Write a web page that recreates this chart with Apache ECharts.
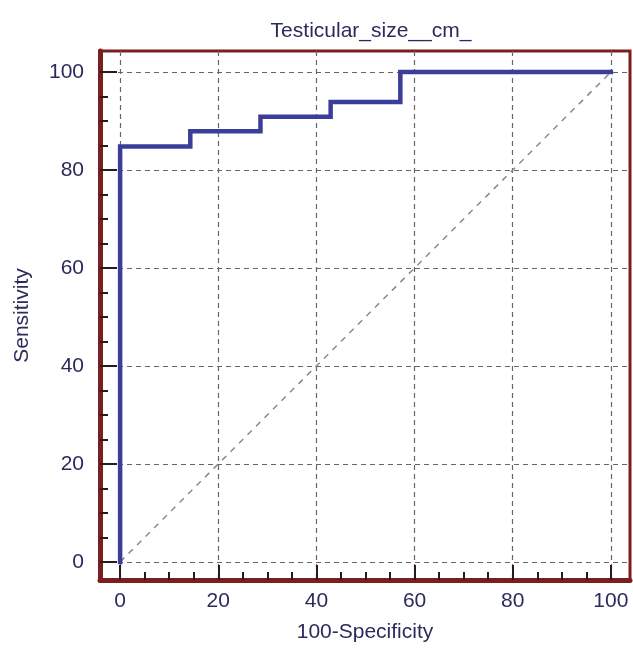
<!DOCTYPE html>
<html>
<head>
<meta charset="utf-8">
<script src="https://cdn.jsdelivr.net/npm/echarts@6.0.0/dist/echarts.min.js"></script>
<style>
  html, body { margin: 0; padding: 0; background: #fff; }
  #roc { width: 633px; height: 648px; }
</style>
</head>
<body>
<div id="roc"></div>
<script>
// ROC curve points (100-specificity, sensitivity)
var fpr = [0, 0, 14.3, 14.3, 28.6, 28.6, 42.9, 42.9, 57.1, 57.1, 100];
var tpr = [0, 84.8, 84.8, 87.9, 87.9, 90.9, 90.9, 93.9, 93.9, 100, 100];
// reference diagonal
var diagX = [0, 100];
var diagY = [0, 100];
// tick values
var majorTicks = [0, 20, 40, 60, 80, 100];
var minorTicks = [5, 10, 15, 25, 30, 35, 45, 50, 55, 65, 70, 75, 85, 90, 95];

var frameColor = '#7b1e1e';
var textColor = '#2b2b5c';
var font = "'Liberation Sans', Arial, sans-serif";

function pairs(xs, ys) {
  var out = [];
  for (var i = 0; i < xs.length; i++) out.push([xs[i], ys[i]]);
  return out;
}

var chart = echarts.init(document.getElementById('roc'));

var gridLine = { show: true, lineStyle: { color: '#666', width: 1.2, type: [5, 4] } };

var option = {
  animation: false,
  title: {
    text: 'Testicular_size__cm_',
    left: 366,
    textAlign: 'center',
    top: 16,
    textStyle: { color: textColor, fontSize: 21, fontWeight: 'normal', fontFamily: font }
  },
  grid: {
    left: 100, right: 3, top: 51, bottom: 66,
    show: true, borderColor: frameColor, borderWidth: 3, backgroundColor: '#fff'
  },
  xAxis: [
    {
      type: 'value', min: -4.1, max: 103.9, position: 'bottom',
      name: '100-Specificity', nameLocation: 'middle', nameGap: 42,
      nameTextStyle: { color: textColor, fontSize: 21, fontFamily: font },
      axisLine: { show: true, onZero: false, lineStyle: { color: frameColor, width: 5 } },
      axisTick: { show: true, inside: true, length: 15, customValues: majorTicks,
        lineStyle: { color: '#2a1a1a', width: 2 } },
      axisLabel: { customValues: majorTicks, margin: 11, color: textColor, fontSize: 21, fontFamily: font },
      splitLine: gridLine
    },
    {
      type: 'value', min: -4.1, max: 103.9, position: 'bottom',
      axisLine: { show: false, onZero: false },
      axisTick: { show: true, inside: true, length: 8, customValues: minorTicks,
        lineStyle: { color: '#2a1a1a', width: 2 } },
      axisLabel: { show: false },
      splitLine: { show: false }
    }
  ],
  yAxis: [
    {
      type: 'value', min: -3.7, max: 104.3, position: 'left',
      name: 'Sensitivity', nameLocation: 'middle', nameGap: 67,
      nameTextStyle: { color: textColor, fontSize: 21, fontFamily: font },
      axisLine: { show: true, onZero: false, lineStyle: { color: frameColor, width: 5 } },
      axisTick: { show: true, inside: true, length: 17, customValues: majorTicks,
        lineStyle: { color: '#2a1a1a', width: 2 } },
      axisLabel: { customValues: majorTicks, margin: 16, color: textColor, fontSize: 21, fontFamily: font },
      splitLine: gridLine
    },
    {
      type: 'value', min: -3.7, max: 104.3, position: 'left',
      axisLine: { show: false, onZero: false },
      axisTick: { show: true, inside: true, length: 8, customValues: minorTicks,
        lineStyle: { color: '#2a1a1a', width: 2 } },
      axisLabel: { show: false },
      splitLine: { show: false }
    }
  ],
  series: [
    {
      type: 'line', xAxisIndex: 0, yAxisIndex: 0,
      data: pairs(diagX, diagY),
      symbol: 'none', silent: true,
      lineStyle: { color: '#8a8a8a', width: 1.5, type: [6, 6] }
    },
    {
      type: 'line', xAxisIndex: 0, yAxisIndex: 0,
      data: pairs(fpr, tpr),
      symbol: 'none',
      lineStyle: { color: '#3b3e99', width: 4.5, cap: 'square', join: 'miter' }
    }
  ]
};
chart.setOption(option);
</script>
</body>
</html>
